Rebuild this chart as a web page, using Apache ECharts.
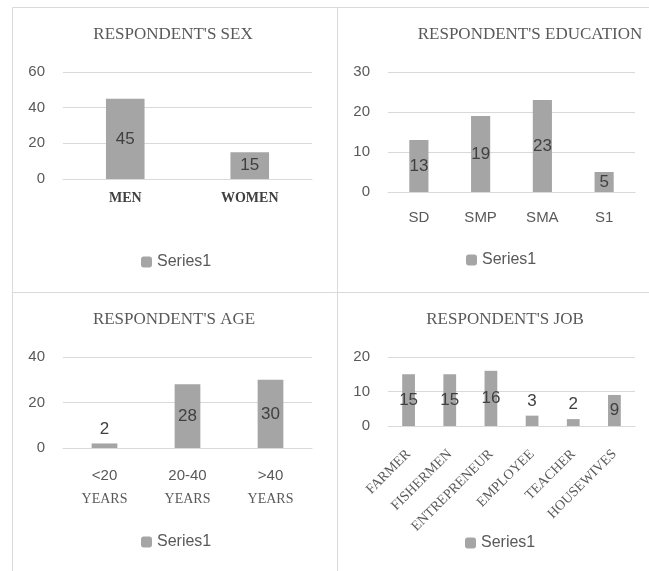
<!DOCTYPE html>
<html>
<head>
<meta charset="utf-8">
<script src="https://cdn.jsdelivr.net/npm/echarts@6/dist/echarts.min.js"></script>
<style>
  html, body { margin: 0; padding: 0; background: #fff; }
  #main { width: 649px; height: 571px; }
</style>
</head>
<body>
<div id="main"></div>
<script>
// data
const sexCats = ['MEN', 'WOMEN']
const sexValues = [45, 15]
const eduCats = ['SD', 'SMP', 'SMA', 'S1']
const eduValues = [13, 19, 23, 5]
const ageCats = ['<20 YEARS', '20-40 YEARS', '>40 YEARS']
const ageValues = [2, 28, 30]
const jobCats = ['FARMER', 'FISHERMEN', 'ENTREPRENEUR', 'EMPLOYEE', 'TEACHER', 'HOUSEWIVES']
const jobValues = [15, 15, 16, 3, 2, 9]
const titles = ["RESPONDENT'S SEX", "RESPONDENT'S EDUCATION", "RESPONDENT'S AGE", "RESPONDENT'S JOB"]
const yMax = [60, 30, 40, 20]
const yStep = [20, 10, 20, 10]

const SANS = 'Liberation Sans'
const SERIF = 'Liberation Serif'
const GRID_COLOR = '#d9d9d9'
const TEXT = '#595959'

// layout of the four panels
const panels = [
  { cats: sexCats, values: sexValues, grid: { left: 63, top: 72, width: 249, height: 107 }, title: [173, 35], legend: [141, 254], kind: 'serif', margin: 12 },
  { cats: eduCats, values: eduValues, grid: { left: 388, top: 72, width: 247, height: 120 }, title: [530, 35], legend: [466, 252], kind: 'sans', margin: 18 },
  { cats: ageCats, values: ageValues, grid: { left: 63, top: 357, width: 249, height: 91 }, title: [174, 320], legend: [141, 534], kind: 'two', margin: 15 },
  { cats: jobCats, values: jobValues, grid: { left: 388, top: 357, width: 247, height: 69 }, title: [505, 320], legend: [465, 535], kind: 'rotate', margin: 26 }
]

function xLabel(p) {
  if (p.kind === 'serif') {
    return { fontFamily: SERIF, fontSize: 14, fontWeight: 'bold', color: '#404040', margin: p.margin }
  }
  if (p.kind === 'sans') {
    return { fontFamily: SANS, fontSize: 15, color: TEXT, margin: p.margin }
  }
  if (p.kind === 'two') {
    return {
      margin: p.margin,
      formatter(value) {
        const parts = value.split(' ')
        return '{a|' + parts[0] + '}\n{b|' + parts[1] + '}'
      },
      rich: {
        a: { fontFamily: SANS, fontSize: 15, color: TEXT, lineHeight: 25 },
        b: { fontFamily: SERIF, fontSize: 14, color: TEXT, lineHeight: 22 }
      }
    }
  }
  return { fontFamily: SERIF, fontSize: 14, color: TEXT, rotate: 45, interval: 0, margin: p.margin }
}

const chart = echarts.init(document.getElementById('main'))

const option = {
  backgroundColor: '#fff',
  animation: false,
  grid: panels.map(p => p.grid),
  xAxis: panels.map((p, i) => ({
    type: 'category',
    gridIndex: i,
    data: p.cats,
    axisLine: { lineStyle: { color: GRID_COLOR, width: 1 } },
    axisTick: { show: false },
    axisLabel: xLabel(p)
  })),
  yAxis: panels.map((p, i) => ({
    type: 'value',
    gridIndex: i,
    min: 0,
    max: yMax[i],
    interval: yStep[i],
    axisLine: { show: false },
    axisTick: { show: false },
    splitLine: { lineStyle: { color: GRID_COLOR, width: 1 } },
    axisLabel: { fontFamily: SANS, fontSize: 15, color: TEXT, margin: 18 }
  })),
  legend: panels.map(p => ({
    data: ['Series1'],
    left: p.legend[0],
    top: p.legend[1],
    padding: 0,
    itemWidth: 11,
    itemHeight: 11,
    itemGap: 5,
    textStyle: { fontFamily: SANS, fontSize: 16, color: TEXT },
    selectedMode: false
  })),
  series: panels.map((p, i) => ({
    name: 'Series1',
    type: 'bar',
    xAxisIndex: i,
    yAxisIndex: i,
    barWidth: '31%',
    itemStyle: { color: '#a5a5a5' },
    data: p.values.map(v => ({
      value: v,
      label: { position: v / yMax[i] < 0.16 ? 'top' : 'inside', distance: 6 }
    })),
    label: {
      show: true,
      fontFamily: SANS,
      fontSize: 17,
      color: '#404040'
    }
  })),
  graphic: [
    // panel borders
    { type: 'line', shape: { x1: 12.5, y1: 7.5, x2: 649, y2: 7.5 }, style: { stroke: GRID_COLOR, lineWidth: 1 } },
    { type: 'line', shape: { x1: 12.5, y1: 7.5, x2: 12.5, y2: 571 }, style: { stroke: GRID_COLOR, lineWidth: 1 } },
    { type: 'line', shape: { x1: 337.5, y1: 7.5, x2: 337.5, y2: 571 }, style: { stroke: GRID_COLOR, lineWidth: 1 } },
    { type: 'line', shape: { x1: 12.5, y1: 292.5, x2: 649, y2: 292.5 }, style: { stroke: GRID_COLOR, lineWidth: 1 } }
  ].concat(panels.map((p, i) => ({
    type: 'text',
    x: p.title[0],
    y: p.title[1],
    style: {
      text: titles[i],
      fontFamily: SERIF,
      fontSize: 17,
      fill: TEXT,
      align: 'center',
      verticalAlign: 'middle'
    }
  })))
}

chart.setOption(option)
</script>
</body>
</html>
